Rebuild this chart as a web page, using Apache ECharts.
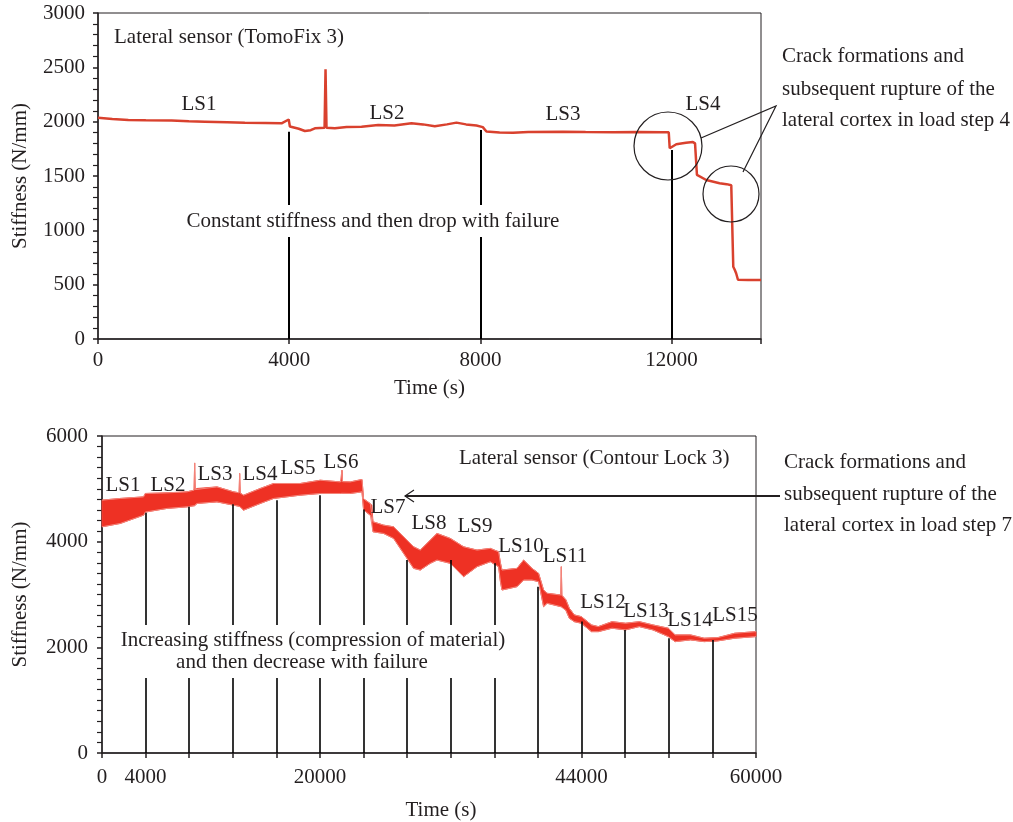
<!DOCTYPE html>
<html>
<head>
<meta charset="utf-8">
<script src="https://cdn.jsdelivr.net/npm/echarts@6/dist/echarts.min.js"></script>
<style>
html, body { margin: 0; padding: 0; background: #fff; }
#main { width: 1013px; height: 822px; }
</style>
</head>
<body>
<div id="main"></div>
<script>
// top panel - lateral sensor, TomoFix 3
var tomoTime = [0, 300, 634, 1000, 1540, 1900, 2237, 2700, 3073, 3500, 3840, 3990, 4014, 4200, 4328, 4450, 4537,
  4740, 4760, 4780, 4955, 5200, 5513, 5861, 6200, 6558, 6800, 7046, 7300, 7499, 7700, 7917, 8050, 8126, 8400,
  8683, 9000, 9728, 10200, 10774, 11300, 11819, 11940, 11960, 12098, 12300, 12446, 12490, 12530, 12725, 13003,
  13150, 13248, 13270, 13290, 13318, 13350, 13388, 13600, 13870];
var tomoStiff = [2035, 2025, 2015, 2012, 2010, 2003, 2000, 1995, 1991, 1988, 1985, 2020, 1955, 1935, 1914, 1922, 1939,
  1945, 2482, 1945, 1939, 1950, 1954, 1969, 1965, 1985, 1975, 1958, 1975, 1991, 1975, 1965, 1950, 1910, 1900,
  1899, 1905, 1908, 1905, 1902, 1905, 1902, 1903, 1755, 1792, 1805, 1812, 1800, 1510, 1463, 1433,
  1425, 1415, 1405, 665, 640, 605, 545, 543, 543];
var tomoStepTimes = [4000, 8000, 12000];
var tomoStepTops = [1908, 1923, 1739];
var tomoXLabels = [0, 4000, 8000, 12000];

// bottom panel - lateral sensor, Contour Lock 3 (noisy trace as low/high envelope)
var clTime = [0, 1679, 3817, 3972, 5963, 7798, 8450, 8500, 8550, 8716, 10550, 12073, 12580, 12628, 12680, 12991,
  14523, 15743, 18193, 20028, 21862, 21970, 22018, 22070, 22780, 23853, 24000, 24615, 24750, 24862, 25835, 26752,
  27670, 28587, 29200, 30119, 30733, 31954, 33174, 34404, 35624, 36385, 36550, 36697, 38073, 38680, 39450, 40055,
  40514, 40835, 42092, 42140, 42190, 42560, 42872, 43340, 43972, 44908, 45532, 46789, 48037, 49294, 50543, 51955,
  52579, 53991, 55240, 56495, 58055, 60000];
var clLow = [4281, 4345, 4502, 4560, 4629, 4659, 4680, 4680, 4690, 4723, 4753, 4691, 4670, 4665, 4660, 4597,
  4723, 4818, 4880, 4912, 4912, 4915, 4915, 4915, 4912, 4943, 4600, 4500, 4470, 4187, 4156, 4062,
  3779, 3495, 3463, 3590, 3652, 3590, 3337, 3526, 3620, 3526, 3250, 3085, 3148, 3274, 3274, 3242,
  2770, 2834, 2770, 2770, 2765, 2700, 2551, 2486, 2456, 2297, 2297, 2362, 2330, 2392, 2330, 2203,
  2108, 2141, 2108, 2122, 2173, 2203];
var clHigh = [4786, 4818, 4848, 4912, 4924, 4943, 4975, 5490, 4985, 5007, 5037, 4943, 4925, 5290, 4920, 4880,
  5007, 5101, 5101, 5163, 5131, 5135, 5352, 5135, 5131, 5177, 4810, 4720, 4690, 4376, 4313, 4281,
  4092, 3903, 3841, 4030, 4156, 4062, 3903, 3841, 3873, 3809, 3600, 3463, 3495, 3652, 3495, 3400,
  3085, 3023, 2990, 3526, 2985, 2900, 2739, 2613, 2581, 2424, 2392, 2486, 2456, 2486, 2424, 2362,
  2235, 2235, 2173, 2184, 2267, 2297];
var clStepTimes = [4000, 8000, 12000, 16000, 20000, 24000, 28000, 32000, 36000, 40000, 44000, 48000, 52000, 56000];
var clStepTops = [4546, 4659, 4710, 4786, 4880, 4610, 3652, 3652, 3590, 3148, 2487, 2330, 2173, 2141];
var clXLabels = [0, 4000, 20000, 44000, 60000];

var serif = 'Liberation Serif';
var fs = 21;
var ink = '#231f20';

function pairs(xs, ys) {
  return xs.map(function (x, i) { return [x, ys[i]]; });
}
function stepLines(times, tops) {
  return times.map(function (t, i) { return [{ coord: [t, 0] }, { coord: [t, tops[i]] }]; });
}

function xAxisCfg(grid, max, labels, labelMargin, nameGap, namePad) {
  return {
    gridIndex: grid, type: 'value', min: 0, max: max, interval: 4000,
    name: 'Time (s)', nameLocation: 'middle', nameGap: nameGap,
    nameTextStyle: { fontFamily: serif, fontSize: fs, color: ink, padding: namePad },
    axisLine: { show: true, onZero: false, lineStyle: { color: ink, width: 1.5 } },
    axisTick: { show: true, length: 5, lineStyle: { color: ink, width: 1.5 } },
    axisLabel: {
      margin: labelMargin, fontFamily: serif, fontSize: fs, color: ink,
      formatter: function (v) { return labels.indexOf(v) >= 0 ? String(v) : ''; }
    },
    splitLine: { show: false }
  };
}
function yAxisCfg(grid, max, interval, minorSplit, labelMargin, nameGap) {
  return {
    gridIndex: grid, type: 'value', min: 0, max: max, interval: interval,
    name: 'Stiffness (N/mm)', nameLocation: 'middle', nameGap: nameGap,
    nameTextStyle: { fontFamily: serif, fontSize: fs, color: ink },
    axisLine: { show: true, lineStyle: { color: ink, width: 1.5 } },
    axisTick: { show: true, length: 5, lineStyle: { color: ink, width: 1.5 } },
    minorTick: { show: true, splitNumber: minorSplit, length: 5, lineStyle: { color: ink, width: 1.2 } },
    axisLabel: {
      margin: labelMargin, fontFamily: serif, fontSize: fs, color: ink,
      formatter: function (v) { return String(v); }
    },
    splitLine: { show: false }
  };
}

function txt(x, y, s, align) {
  return {
    type: 'text', x: x, y: y, z: 60,
    style: { text: s, fontFamily: serif, fontSize: fs, fill: ink, align: align || 'left', verticalAlign: 'middle' }
  };
}

var graphics = [
  // top panel
  txt(114, 37, 'Lateral sensor (TomoFix 3)'),
  txt(199, 104, 'LS1', 'center'), txt(387, 113, 'LS2', 'center'),
  txt(563, 114, 'LS3', 'center'), txt(703, 104, 'LS4', 'center'),
  { type: 'rect', z: 50, shape: { x: 180, y: 205, width: 387, height: 32 }, style: { fill: '#fff' } },
  txt(373, 221, 'Constant stiffness and then drop with failure', 'center'),
  { type: 'circle', z: 60, shape: { cx: 668, cy: 146, r: 34 }, style: { fill: null, stroke: ink, lineWidth: 1.2 } },
  { type: 'circle', z: 60, shape: { cx: 731, cy: 194, r: 28 }, style: { fill: null, stroke: ink, lineWidth: 1.2 } },
  { type: 'polyline', z: 60, shape: { points: [[701, 138], [776, 106], [743, 172]] }, style: { fill: null, stroke: ink, lineWidth: 1.2 } },
  txt(782, 56, 'Crack formations and'),
  txt(782, 89, 'subsequent rupture of the'),
  txt(782, 120, 'lateral cortex in load step 4'),

  // bottom panel
  txt(459, 458, 'Lateral sensor (Contour Lock 3)'),
  txt(123, 485, 'LS1', 'center'), txt(168, 485, 'LS2', 'center'), txt(215, 474, 'LS3', 'center'),
  txt(260, 474, 'LS4', 'center'), txt(298, 468, 'LS5', 'center'), txt(341, 462, 'LS6', 'center'),
  txt(388, 507, 'LS7', 'center'), txt(429, 523, 'LS8', 'center'), txt(475, 526, 'LS9', 'center'),
  txt(521, 546, 'LS10', 'center'), txt(565, 556, 'LS11', 'center'), txt(603, 602, 'LS12', 'center'),
  txt(646, 611, 'LS13', 'center'), txt(690, 620, 'LS14', 'center'), txt(735, 615, 'LS15', 'center'),
  { type: 'rect', z: 50, shape: { x: 116, y: 625, width: 392, height: 53 }, style: { fill: '#fff' } },
  txt(313, 640, 'Increasing stiffness (compression of material)', 'center'),
  txt(302, 662, 'and then decrease with failure', 'center'),
  { type: 'line', z: 60, shape: { x1: 780, y1: 496, x2: 405, y2: 496 }, style: { stroke: ink, lineWidth: 1.8 } },
  { type: 'polyline', z: 60, shape: { points: [[414, 490], [405, 496], [414, 502]] }, style: { fill: null, stroke: ink, lineWidth: 1.2 } },
  txt(784, 462, 'Crack formations and'),
  txt(784, 494, 'subsequent rupture of the'),
  txt(784, 525, 'lateral cortex in load step 7')
];

var chart = echarts.init(document.getElementById('main'));
chart.setOption({
  animation: false,
  backgroundColor: '#fff',
  grid: [
    { left: 98, top: 13, width: 663, height: 326, show: true, borderColor: ink, borderWidth: 1, backgroundColor: 'transparent' },
    { left: 102, top: 436, width: 654, height: 317, show: true, borderColor: ink, borderWidth: 1, backgroundColor: 'transparent' }
  ],
  xAxis: [
    xAxisCfg(0, 13870, tomoXLabels, 11, 39, 0),
    xAxisCfg(1, 60000, clXLabels, 14, 47, [0, 0, 0, 24])
  ],
  yAxis: [
    yAxisCfg(0, 3000, 500, 5, 13, 67),
    yAxisCfg(1, 6000, 2000, 10, 14, 71)
  ],
  graphic: graphics,
  series: [
    {
      name: 'TomoFix 3', type: 'line', xAxisIndex: 0, yAxisIndex: 0,
      data: pairs(tomoTime, tomoStiff), showSymbol: false, symbol: 'none',
      lineStyle: { color: '#d9412e', width: 2.5 },
      markLine: {
        silent: true, symbol: ['none', 'none'], label: { show: false },
        lineStyle: { color: '#000', type: 'solid', width: 2 },
        data: stepLines(tomoStepTimes, tomoStepTops)
      }
    },
    {
      // filled envelope between low and high readings
      name: 'CL band', type: 'custom', xAxisIndex: 1, yAxisIndex: 1,
      data: [[clTime[0], clLow[0]]],
      renderItem: function (params, api) {
        var pts = [];
        for (var i = 0; i < clTime.length; i++) pts.push(api.coord([clTime[i], clHigh[i]]));
        for (var j = clTime.length - 1; j >= 0; j--) pts.push(api.coord([clTime[j], clLow[j]]));
        return { type: 'polygon', shape: { points: pts }, style: { fill: '#ee3124', stroke: '#f0473b', lineWidth: 1 } };
      },
      z: 2
    },
    {
      name: 'CL low', type: 'line', xAxisIndex: 1, yAxisIndex: 1,
      data: pairs(clTime, clLow), showSymbol: false, symbol: 'none',
      lineStyle: { color: '#f4857b', width: 1 }, z: 3,
      markLine: {
        silent: true, symbol: ['none', 'none'], label: { show: false },
        lineStyle: { color: '#000', type: 'solid', width: 1.6 },
        data: stepLines(clStepTimes, clStepTops)
      }
    },
    {
      name: 'CL high', type: 'line', xAxisIndex: 1, yAxisIndex: 1,
      data: pairs(clTime, clHigh), showSymbol: false, symbol: 'none',
      lineStyle: { color: '#f4857b', width: 1 }, z: 3
    }
  ]
});
</script>
</body>
</html>
